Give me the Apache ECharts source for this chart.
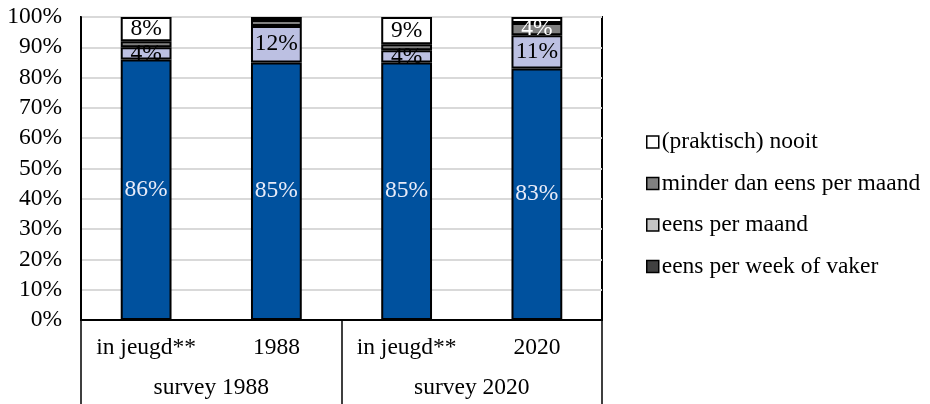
<!DOCTYPE html>
<html><head><meta charset="utf-8">
<script src="https://cdn.jsdelivr.net/npm/echarts@6/dist/echarts.min.js"></script>
<style>html,body{margin:0;padding:0;background:#fff}#c{width:930px;height:404px}</style>
</head><body><div id="c"></div>
<script>
const categories = ['in jeugd**', '1988', 'in jeugd**', '2020'];
const groups = ['survey 1988', 'survey 2020'];
const yTicks = [0, 10, 20, 30, 40, 50, 60, 70, 80, 90, 100];
const weekOfVaker = [86, 85, 85, 83];
const eensPerMaand = [4, 12, 4, 11];
const minderDanMaand = [2, 2, 2, 4];
const nooit = [8, 1, 9, 2];

const FONT = '"Liberation Serif", "DejaVu Serif", serif';
const chart = echarts.init(document.getElementById('c'), null, {renderer: 'canvas'});
function lbl(color) {
  return {
    show: true, position: 'inside', color: color, fontFamily: FONT, fontSize: 23.5,
    formatter: p => p.value >= 3 ? p.value + '%' : ''
  };
}
function ser(name, data, color, labelColor) {
  return {
    name: name, type: 'bar', stack: 's', data: data, barWidth: '39%',
    xAxisIndex: 0,
    itemStyle: {color: color, borderColor: '#000', borderWidth: 2},
    label: lbl(labelColor),
    emphasis: {disabled: true}
  };
}
chart.setOption({
  animation: false,
  grid: {left: 81, right: 328, top: 17, bottom: 84, show: true, borderColor: '#000', borderWidth: 2, outerBoundsMode: 'none'},
  legend: {
    orient: 'vertical', left: 641, top: 125, itemGap: 17.5, itemWidth: 12, itemHeight: 12,
    icon: 'rect', selectedMode: false,
    textStyle: {fontFamily: FONT, fontSize: 23.5, color: '#000', padding: [0, 0, 0, -2]},
    data: [
      {name: '(praktisch) nooit', itemStyle: {color: '#fff', borderColor: '#000', borderWidth: 1.5}},
      {name: 'minder dan eens per maand', itemStyle: {color: '#808080', borderColor: '#000', borderWidth: 1.5}},
      {name: 'eens per maand', itemStyle: {color: '#c4c4c4', borderColor: '#000', borderWidth: 1.5}},
      {name: 'eens per week of vaker', itemStyle: {color: '#404040', borderColor: '#000', borderWidth: 1.5}}
    ]
  },
  xAxis: [
    {type: 'category', data: categories, position: 'bottom',
     axisLine: {show: true, lineStyle: {color: '#000', width: 2}},
     axisTick: {show: false},
     axisLabel: {fontFamily: FONT, fontSize: 23.5, color: '#000', margin: 16}},
    {type: 'category', data: groups, position: 'bottom',
     axisLine: {show: true, lineStyle: {color: '#000', width: 2}},
     axisTick: {show: true, length: 86, lineStyle: {color: '#000', width: 1.5}},
     axisLabel: {fontFamily: FONT, fontSize: 23.5, color: '#000', margin: 56}}
  ],
  yAxis: {
    type: 'value', min: 0, max: 100, interval: 10,
    axisLabel: {fontFamily: FONT, fontSize: 23.5, color: '#000', margin: 19, formatter: v => yTicks.includes(v) ? v + '%' : ''},
    axisLine: {show: true, lineStyle: {color: '#000', width: 2}},
    axisTick: {show: false},
    splitLine: {lineStyle: {color: '#d9d9d9', width: 2}}
  },
  series: [
    ser('eens per week of vaker', weekOfVaker, '#00519e', '#e8ebf8'),
    ser('eens per maand', eensPerMaand, '#bcc0e2', '#000'),
    ser('minder dan eens per maand', minderDanMaand, '#808080', '#fff'),
    ser('(praktisch) nooit', nooit, '#ffffff', '#000')
  ]
});
</script></body></html>
